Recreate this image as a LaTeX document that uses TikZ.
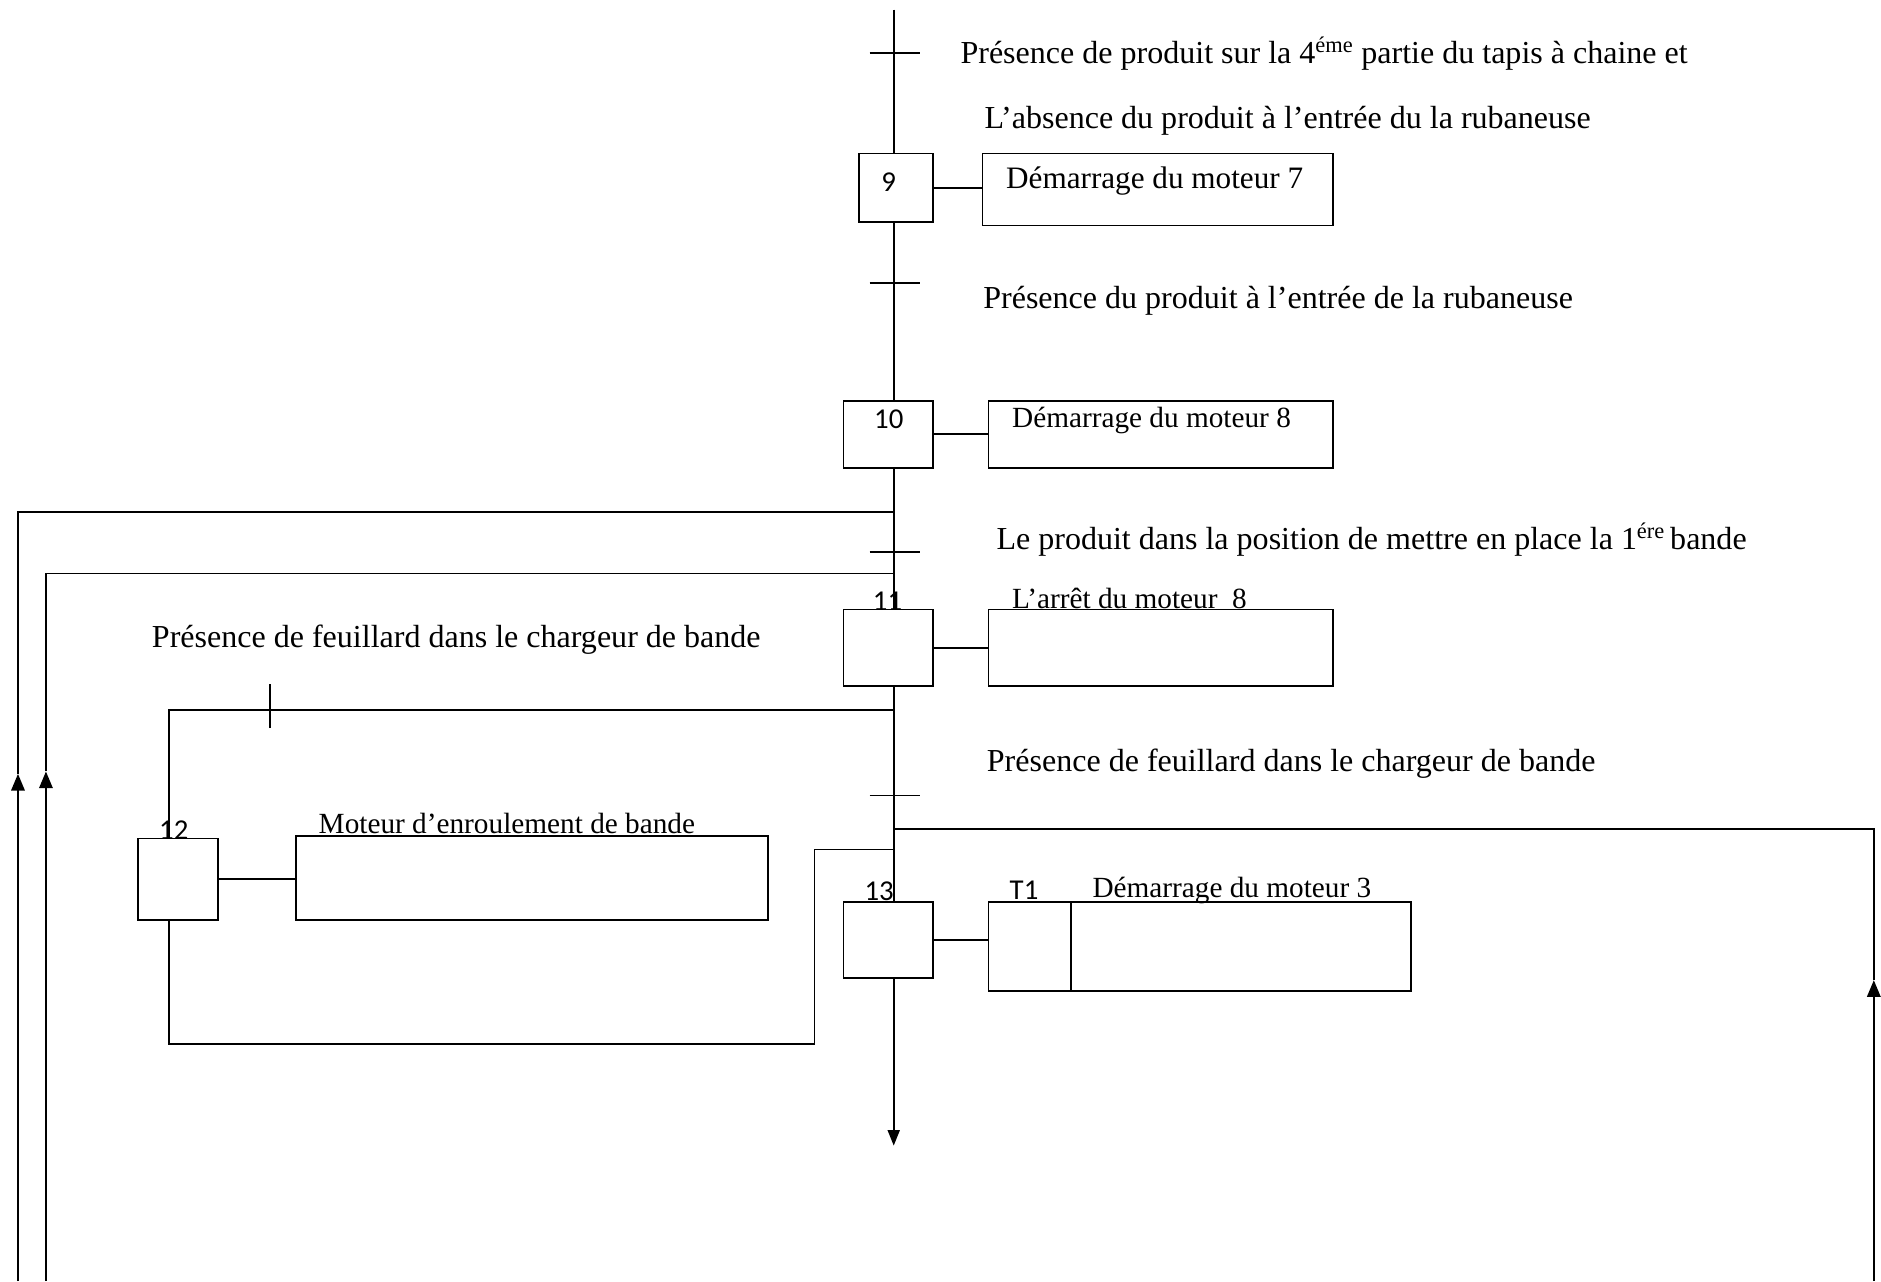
\documentclass[tikz,border=0pt]{standalone}
\usepackage{fontspec}
\setmainfont{Liberation Serif}
\newfontfamily\numfont{Carlito}
\usetikzlibrary{arrows.meta}
\begin{document}
\begin{tikzpicture}[x=1pt,y=-1pt,line width=1.4pt,
  box/.style={draw,line width=1.4pt,inner sep=0pt,outer sep=0pt,anchor=north west},
  txt/.style={anchor=base west,inner sep=0pt,font=\fontsize{26.7}{30}\selectfont},
  act/.style={anchor=base west,inner sep=0pt,font=\fontsize{24.4}{28}\selectfont},
  num/.style={anchor=base west,inner sep=0pt,font=\numfont\fontsize{24}{28}\selectfont},
  bar/.style={line width=1.4pt},
  uparrow/.style={line width=2.2pt,-{Triangle[length=14pt,width=11pt]}},
  downarrow/.style={line width=1.6pt,-{Triangle[length=13pt,width=10pt]}}]
\useasboundingbox (0,0) rectangle (1568,1068);

% step boxes
\node[box,minimum width=62pt,minimum height=57pt] (s9) at (716,128) {};
\node[box,minimum width=75pt,minimum height=56pt] (s10) at (703,334) {};
\node[box,minimum width=75pt,minimum height=64pt] (s11) at (703,508) {};
\node[box,minimum width=67pt,minimum height=68pt] (s12) at (115,699) {};
\node[box,minimum width=75pt,minimum height=63pt] (s13) at (703,752) {};

% action boxes
\node[box,minimum width=292pt,minimum height=60pt] (a9) at (819,128) {};
\node[box,minimum width=287pt,minimum height=56pt] (a10) at (824,334) {};
\node[box,minimum width=287pt,minimum height=64pt] (a11) at (824,508) {};
\node[box,minimum width=393pt,minimum height=70pt] (a12) at (247,697) {};
\node[box,minimum width=352pt,minimum height=74pt] (a13) at (824,752) {};
\draw ([xshift=69pt]a13.north west) -- ([xshift=69pt]a13.south west);

% step numbers
\node[num] (n9) at (734,160) {9};
\node[num] (n10) at (728,357) {10};
\node[num] (n11) at (727,509) {11};
\node[num] (n12) at (132,700) {12};
\node[num] (n13) at (720,751) {13};
\node[num] (nT1) at (841,750) {T1};

% texts
\node[txt] (c1) at (800,53) {Présence de produit sur la 4\textsuperscript{éme} partie du tapis à chaine et};
\node[txt] (c1b) at (820,107) {L’absence du produit à l’entrée du la rubaneuse};
\node[txt] (c2) at (819,257) {Présence du produit à l’entrée de la rubaneuse};
\node[txt] (c3) at (830,458) {Le produit dans la position de mettre en place la 1\textsuperscript{ére}\,bande};
\node[txt] (c4) at (126,540) {Présence de feuillard dans le chargeur de bande};
\node[txt] (c5) at (822,643) {Présence de feuillard dans le chargeur de bande};
\node[act,font=\fontsize{26}{30}\selectfont] (t9) at (838,157) {Démarrage du moteur 7};
\node[act] (t10) at (843,356) {Démarrage du moteur 8};
\node[act] (t11) at (843,507) {L’arrêt du moteur\ \ 8};
\node[act] (t12) at (265,695) {Moteur d’enroulement de bande};
\node[act] (t13) at (910,748) {Démarrage du moteur 3};

% main line
\coordinate (top) at (745,8);
\coordinate (bot) at (745,955);
\draw (top) -- (top |- s9.north);
\draw (top |- s9.south) -- (top |- s10.north);
\draw (top |- s10.south) -- (top |- s11.north);
\draw (top |- s11.south) -- (top |- s13.north);
\draw[downarrow] (top |- s13.south) -- (bot);

% links step - action
\draw (s9.east) -- (s9.east -| a9.west);
\draw (s10.east) -- (s10.east -| a10.west);
\draw (s11.east) -- (s11.east -| a11.west);
\draw (s12.east) -- (s12.east -| a12.west);
\draw (s13.east) -- (s13.east -| a13.west);

% transitions on main line
\coordinate (tr1) at (745,44);
\coordinate (tr2) at (745,236);
\coordinate (tr3) at (745,460);
\coordinate (tr4) at (745,663);
\foreach \t in {tr1,tr2,tr3,tr4}
  \draw[bar] ([xshift=-20pt]\t) -- ([xshift=22pt]\t);

% left loops
\coordinate (j1) at (745,427);
\coordinate (l1top) at (15,427);
\coordinate (l1arr) at (15,645);
\coordinate (l1bot) at (15,1068);
\draw[uparrow] (l1bot) -- (l1arr);
\draw (l1arr) -- (l1top) -- (j1);

\coordinate (j2) at (745,478);
\coordinate (l2top) at (38.3,478);
\coordinate (l2arr) at (38.3,643);
\coordinate (l2bot) at (38.3,1068);
\draw[uparrow] (l2bot) -- (l2arr);
\draw (l2arr) -- (l2top) -- (j2);

% branch to step 12
\coordinate (j3) at (745,592);
\coordinate (b12) at (141,592);
\draw (j3) -- (b12) -- (b12 |- s12.north);
\coordinate (tr5) at (225,592);
\draw[bar] ([yshift=-15pt]tr5) -- ([yshift=22pt]tr5);

% return from step 12
\coordinate (r1) at (141,870);
\coordinate (r2) at (679,870);
\coordinate (r3) at (679,708);
\coordinate (j4) at (745,708);
\draw (b12 |- s12.south) -- (r1) -- (r2) -- (r3) -- (j4);

% right line
\coordinate (j5) at (745,691);
\coordinate (rc) at (1562,691);
\coordinate (rarr) at (1562,817);
\coordinate (rbot) at (1562,1068);
\draw (j5) -- (rc) -- (rarr);
\draw[uparrow] (rbot) -- (rarr);
\end{tikzpicture}
\end{document}
